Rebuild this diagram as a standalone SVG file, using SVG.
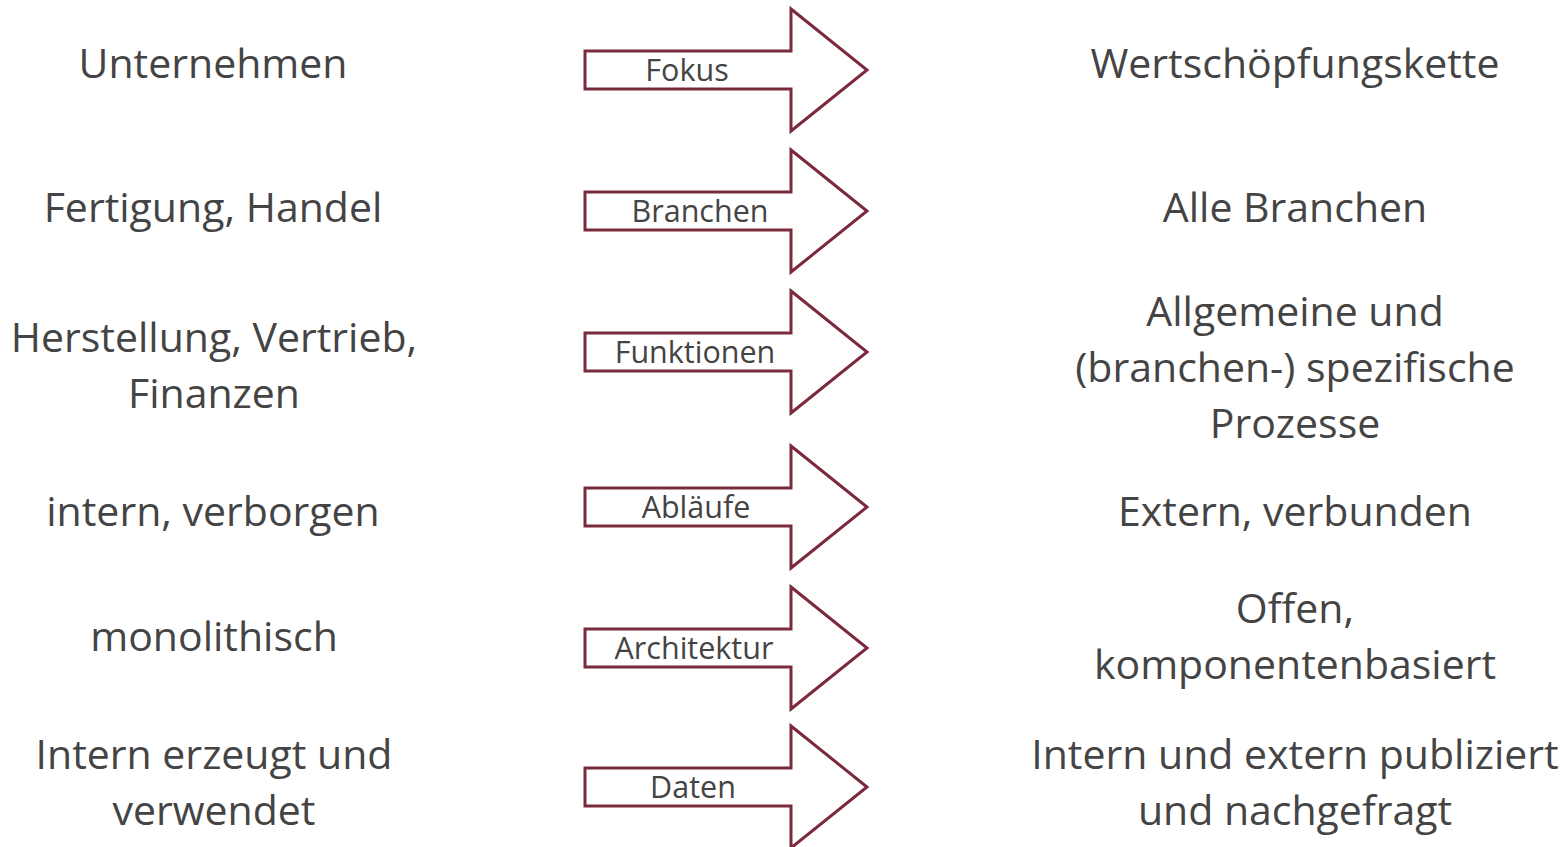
<svg xmlns="http://www.w3.org/2000/svg" width="1565" height="847" viewBox="0 0 1565 847">
  <style>
    .txt { font-family: "Open Sans", "Noto Sans", sans-serif; fill: #444444; text-anchor: middle; }
    .big { font-size: 41px; }
    .lbl { font-size: 30.5px; }
    .arrow { fill: #ffffff; stroke: #7b2a3b; stroke-width: 3; stroke-linejoin: miter; }
  </style>
  <defs>
    <!-- block arrow, centred vertically on y=0 -->
    <path id="blockArrow" d="M585,-19 H791 V-61 L867,0 L791,61 V19 H585 Z"/>
  </defs>

  <g id="connectors">
    <use href="#blockArrow" class="arrow" transform="translate(0,70)"/>
    <use href="#blockArrow" class="arrow" transform="translate(0,211)"/>
    <use href="#blockArrow" class="arrow" transform="translate(0,352)"/>
    <use href="#blockArrow" class="arrow" transform="translate(0,507)"/>
    <use href="#blockArrow" class="arrow" transform="translate(0,648)"/>
    <use href="#blockArrow" class="arrow" transform="translate(0,787)"/>
    <text class="txt lbl" x="687" y="81">Fokus</text>
    <text class="txt lbl" x="700" y="222">Branchen</text>
    <text class="txt lbl" x="695" y="363">Funktionen</text>
    <text class="txt lbl" x="696" y="518">Abläufe</text>
    <text class="txt lbl" x="694" y="659">Architektur</text>
    <text class="txt lbl" x="693" y="798">Daten</text>
  </g>

  <g id="left-1"><text class="txt big" x="213" y="78">Unternehmen</text></g>
  <g id="left-2"><text class="txt big" x="213" y="222">Fertigung, Handel</text></g>
  <g id="left-3">
    <text class="txt big" x="214" y="352">Herstellung, Vertrieb,</text>
    <text class="txt big" x="214" y="408">Finanzen</text>
  </g>
  <g id="left-4"><text class="txt big" x="213" y="526">intern, verborgen</text></g>
  <g id="left-5"><text class="txt big" x="214" y="651">monolithisch</text></g>
  <g id="left-6">
    <text class="txt big" x="214" y="769">Intern erzeugt und</text>
    <text class="txt big" x="214" y="825">verwendet</text>
  </g>

  <g id="right-1"><text class="txt big" x="1295" y="78">Wertschöpfungskette</text></g>
  <g id="right-2"><text class="txt big" x="1295" y="222">Alle Branchen</text></g>
  <g id="right-3">
    <text class="txt big" x="1295" y="326">Allgemeine und</text>
    <text class="txt big" x="1295" y="382">(branchen-) spezifische</text>
    <text class="txt big" x="1295" y="438">Prozesse</text>
  </g>
  <g id="right-4"><text class="txt big" x="1295" y="526">Extern, verbunden</text></g>
  <g id="right-5">
    <text class="txt big" x="1295" y="623">Offen,</text>
    <text class="txt big" x="1295" y="679">komponentenbasiert</text>
  </g>
  <g id="right-6">
    <text class="txt big" x="1295" y="769">Intern und extern publiziert</text>
    <text class="txt big" x="1295" y="825">und nachgefragt</text>
  </g>
</svg>
